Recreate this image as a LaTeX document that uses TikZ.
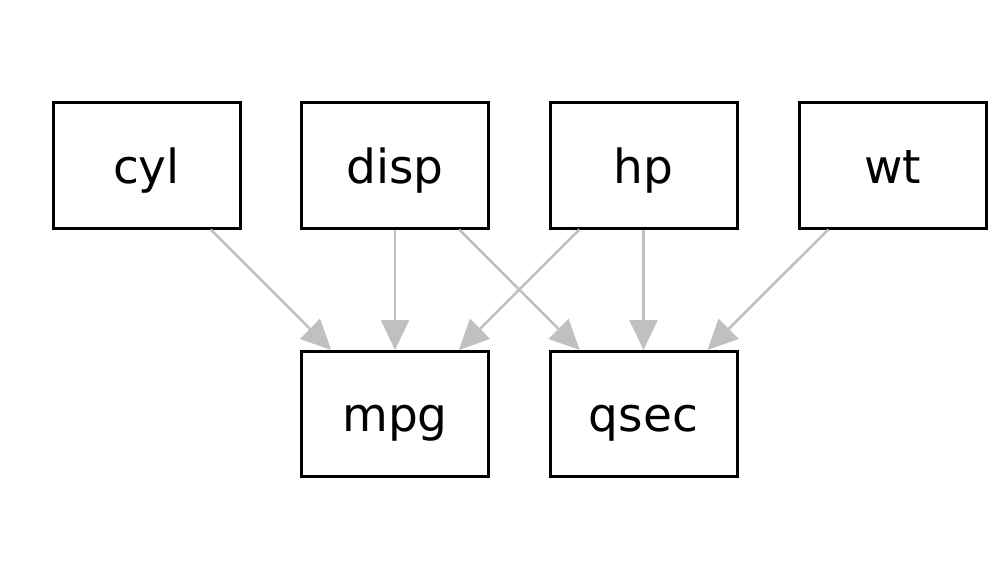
\documentclass[tikz,border=0pt]{standalone}
\usepackage{fontspec}
\setmainfont{DejaVu Sans}
\usetikzlibrary{arrows.meta}
\definecolor{edgegray}{HTML}{C0C0C0}
\begin{document}
\begin{tikzpicture}[x=1pt,y=-1pt,
  var/.style={draw=black,line width=3pt,minimum width=187pt,minimum height=125pt,inner sep=0pt,text height=41pt,text depth=6pt,font=\fontsize{47}{56}\selectfont,fill=white},
  link/.style={draw=edgegray,line width=2.5pt,-{Triangle[length=30pt,width=28pt]}}]
\useasboundingbox[fill=white] (0,0) rectangle (1000,580);
\node[var] (cyl) at (146.5,165.5) {cyl};
\node[var] (disp) at (395,165.5) {disp};
\node[var] (hp) at (643.5,165.5) {hp};
\node[var] (wt) at (892.5,165.5) {wt};
\node[var] (mpg) at (395,414) {mpg};
\node[var] (qsec) at (643.5,414) {qsec};
\draw[link] (cyl) -- (mpg);
\draw[link] (disp) -- (mpg);
\draw[link] (disp) -- (qsec);
\draw[link] (hp) -- (mpg);
\draw[link] (hp) -- (qsec);
\draw[link] (wt) -- (qsec);
\end{tikzpicture}
\end{document}
